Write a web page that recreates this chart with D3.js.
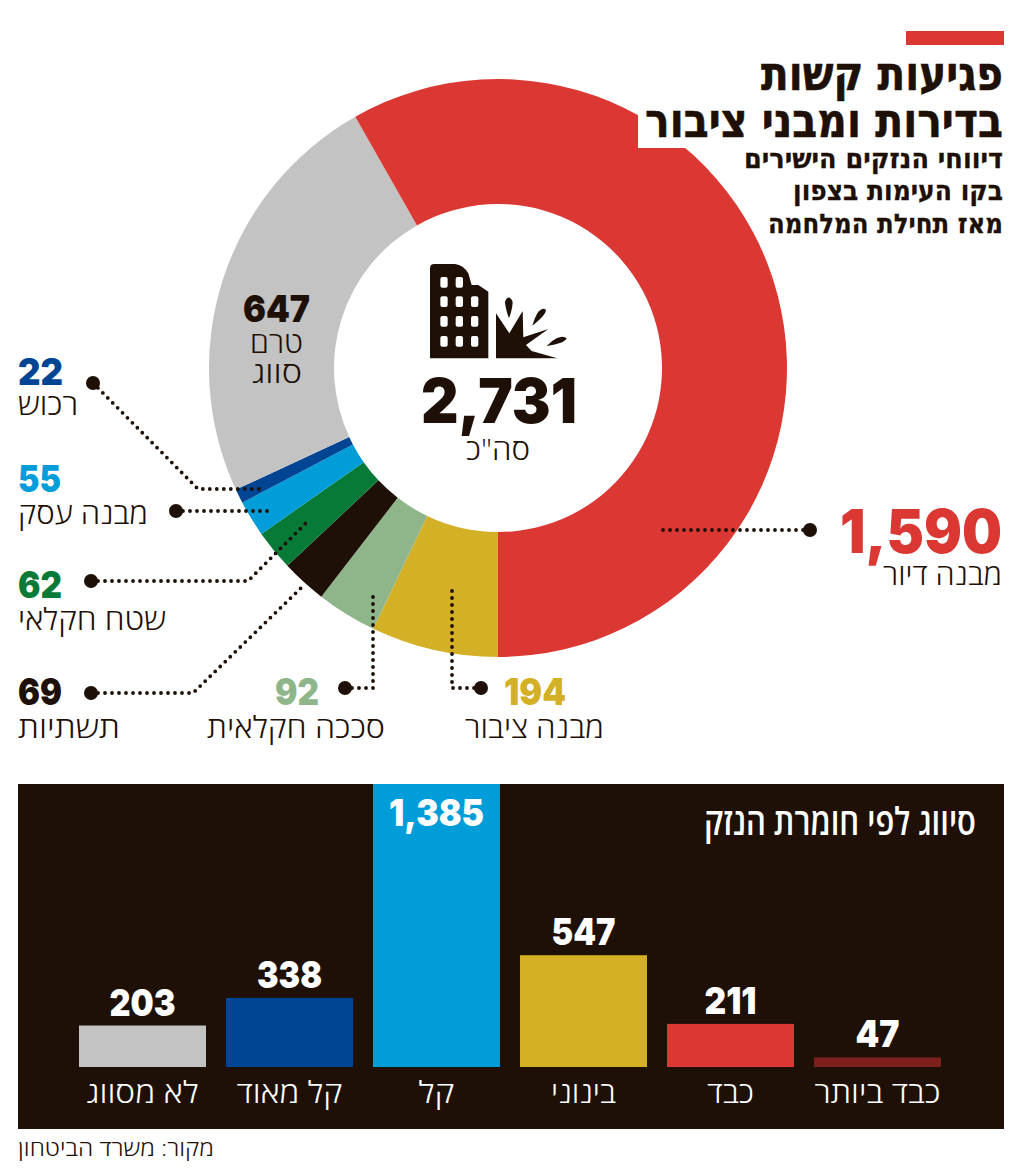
<!DOCTYPE html>
<html lang="he"><head><meta charset="utf-8">
<script src="https://cdn.jsdelivr.net/npm/d3@7"></script>
<style>
html,body{margin:0;padding:0;background:#fff}
svg{display:block}
.num{font-family:Inter,Lato,sans-serif;font-weight:900}
.heb{font-family:"Open Sans","Liberation Sans",sans-serif;font-weight:300}
.hebb{font-family:"Open Sans","Liberation Sans",sans-serif;font-weight:600}
.head{font-family:"DejaVu Sans","Liberation Sans",sans-serif;font-weight:700}
</style></head><body>
<svg id="c" width="1024" height="1171"></svg>
<script>
// --- data ---
const donutCategories = ["מבנה ציבור","סככה חקלאית","תשתיות","שטח חקלאי","מבנה עסק","רכוש","טרם סווג","מבנה דיור"];
const donutValues = [194,92,69,62,55,22,647,1590];
const donutColors = ["#d4b027","#8fb58a","#1e1006","#067a36","#009dd9","#004494","#c3c3c3","#dc3833"];
const totalLabel = "2,731";
const barCategories = ["כבד ביותר","כבד","בינוני","קל","קל מאוד","לא מסווג"];
const barValues = [47,211,547,1385,338,203];
const barColors = ["#7d1f1c","#dc3833","#d4b027","#009dd9","#004494","#c3c3c3"];
const titleLines = ["פגיעות קשות","בדירות ומבני ציבור"];
const subLines = ["דיווחי הנזקים הישירים","בקו העימות בצפון","מאז תחילת המלחמה"];
const barTitle = "סיווג לפי חומרת הנזק";
const source = "מקור: משרד הביטחון";

// --- layout ---
const INK="#1e1006";
const svg=d3.select("#c");
const cx=498,cy=368,R=289,r=164;
// place text so it spans x1..x2, scaling horizontally rather than stretching spacing
function T(cls,str,x1,x2,base,size,fill,heavy){
  const t=svg.append("text").attr("class",cls).text(str)
    .attr("text-anchor","middle").attr("font-size",size).attr("fill",fill||INK);
  if(heavy) t.attr("stroke",fill||INK).attr("stroke-width",heavy);
  const w=t.node().getComputedTextLength();
  t.attr("transform",`translate(${(x1+x2)/2},${base}) scale(${(x2-x1)/w},1)`);
  return t;
}
// donut
const pie=d3.pie().value(d=>d).sort(null).startAngle(Math.PI).endAngle(3*Math.PI);
const arc=d3.arc().innerRadius(r).outerRadius(R);
svg.append("g").attr("transform",`translate(${cx},${cy})`)
  .selectAll("path").data(pie(donutValues)).join("path")
  .attr("d",arc).attr("fill",(d,i)=>donutColors[i]);

// white title mask + bar
svg.append("rect").attr("x",638).attr("y",0).attr("width",386).attr("height",148).attr("fill","#fff");
svg.append("rect").attr("x",906).attr("y",31).attr("width",98).attr("height",14).attr("fill","#dc3833");

T("head",titleLines[0],761,1003,90,47,INK,.6);
T("head",titleLines[1],645,1003,137,47,INK,.6);
T("head",subLines[0],744,1003,168,27,INK,.3);
T("head",subLines[1],793,1003,200,27,INK,.3);
T("head",subLines[2],768,1003,233,27,INK,.3);

// leaders
const leaders=[
 [[810,530],[662,530]],
 [[93,383],[198,489],[260,489]],
 [[176,511],[274,511]],
 [[91,581],[248,581],[307,522]],
 [[91,693],[193,693],[302,587]],
 [[345,688],[373,688],[373,590]],
 [[481,688],[452,688],[452,590]]
];
const line=d3.line();
leaders.forEach(p=>{
  svg.append("path").attr("d",line(p)).attr("fill","none").attr("stroke",INK)
    .attr("stroke-width",3.8).attr("stroke-linecap","round").attr("stroke-dasharray","0 7");
  svg.append("circle").attr("cx",p[0][0]).attr("cy",p[0][1]).attr("r",7).attr("fill",INK);
});

// donut labels
const labelPos=[
 [0,504,566,705,37,465,604,738,30],
 [1,275,319,705,37,207,385,738,30],
 [2,18,62,705,37,18,120,738,30],
 [3,18,62,598,37,18,166,630,30],
 [4,18,61,492,37,18,148,524,30],
 [5,18,63,385,37,18,78,415,30],
 [7,840,1002,553,61,883,1002,585,29]
];
labelPos.forEach(([i,a,b,c,s,d,e,f,g])=>{
  T("num",d3.format(",")(donutValues[i]),a,b,c,s,donutColors[i]);
  T("heb",donutCategories[i],d,e,f,g);
});
T("num",d3.format(",")(donutValues[6]),243,310,322,37);
T("heb","טרם",250,303,353,30);
T("heb","סווג",252,302,383,30);
T("num",totalLabel,421,577,423,62);
T("heb","סה\"כ",466,530,460,29);

// icon (drawn in 3x coordinates)
const ic=svg.append("g").attr("transform","translate(400,250) scale(0.3333)").attr("fill",INK);
ic.append("path").attr("d","M90,55 Q90,42 103,42 L165,42 Q190,45 205,70 L215,105 L235,105 L265,125 L265,325 L90,325 Z");
const winX=[132,178,224],winY=[97,155,214,274];
winY.forEach((y,j)=>winX.forEach((x,k)=>{
  if(j===0&&k===2) return;
  ic.append("rect").attr("x",x-11).attr("y",y-16).attr("width",22).attr("height",32).attr("rx",6).attr("fill","#fff");
}));
ic.append("path").attr("d","M288,325 L288,190 L328,250 L368,183 L370,262 L445,237 L378,285 L395,303 L472,325 Z");
ic.append("path").attr("d","M315,155 Q326,130 338,155 Q338,175 327,205 Q316,175 315,155 Z");
ic.append("path").attr("d","M415,185 Q430,170 438,180 Q438,195 397,227 Q405,200 415,185 Z");
ic.append("path").attr("d","M470,265 Q490,255 500,265 Q495,280 440,288 Q455,272 470,265 Z");

// bars panel
svg.append("rect").attr("x",18).attr("y",784).attr("width",986).attr("height",345).attr("fill",INK);
const x=d3.scaleBand().domain(barCategories).range([951,69]).paddingInner(20/147).paddingOuter(10/147);
const y=d3.scaleLinear().domain([0,1385]).range([1067,784]);
const g=svg.append("g");
g.selectAll("rect").data(barValues).join("rect")
  .attr("x",(d,i)=>x(barCategories[i])).attr("width",x.bandwidth())
  .attr("y",d=>y(d)).attr("height",d=>y(0)-y(d))
  .attr("fill",(d,i)=>barColors[i]);
const numW=[44,52,64,95,65,66], catW=[126,47,65,36,106,112];
barValues.forEach((v,i)=>{
  const c=x(barCategories[i])+x.bandwidth()/2;
  T("num",d3.format(",")(v),c-numW[i]/2,c+numW[i]/2,v===1385?826:y(v)-10,37,"#fff");
  T("heb",barCategories[i],c-catW[i]/2,c+catW[i]/2,1103,30,"#fff");
});
T("hebb",barTitle,704,976,835,38,"#fff");
T("heb",source,18,214,1156,22);
</script>
</body></html>
